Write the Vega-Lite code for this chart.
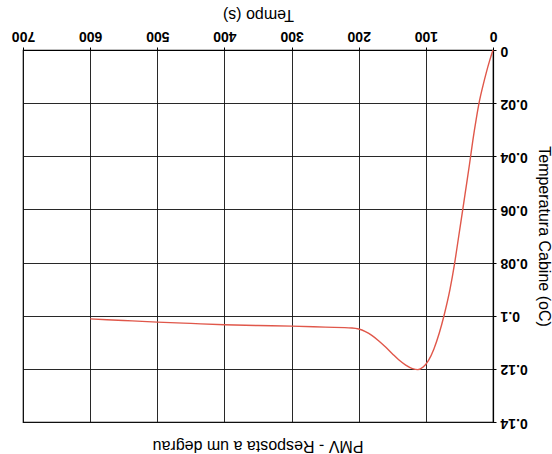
{
  "$schema": "https://vega.github.io/schema/vega-lite/v6.json",
  "autosize": "none",
  "width": 470,
  "height": 372,
  "padding": {"left": 23, "top": 50, "right": 59, "bottom": 32},
  "background": "white",
  "config": {
    "font": "Liberation Sans",
    "view": {"stroke": "black", "strokeWidth": 1.2},
    "axis": {
      "gridColor": "#111",
      "gridWidth": 1,
      "gridOpacity": 0.9,
      "domainColor": "black",
      "domainWidth": 1.2,
      "tickColor": "black",
      "tickSize": 3,
      "labelFont": "Liberation Sans",
      "labelFontSize": 14,
      "labelFontWeight": "bold",
      "labelColor": "black",
      "titleFont": "Liberation Sans",
      "titleFontSize": 16,
      "titleFontWeight": "normal",
      "titleColor": "black"
    }
  },
  "title": {
    "text": "PMV - Resposta a um degrau",
    "orient": "bottom",
    "angle": 180,
    "baseline": "bottom",
    "offset": 9,
    "anchor": "middle",
    "font": "Liberation Sans",
    "fontSize": 16,
    "fontWeight": "normal",
    "color": "black"
  },
  "data": {
    "values": [
      {"t": 0, "v": 0},
      {"t": 5, "v": 0.004},
      {"t": 10, "v": 0.0085},
      {"t": 15, "v": 0.0135},
      {"t": 20, "v": 0.019},
      {"t": 25, "v": 0.026},
      {"t": 30, "v": 0.034},
      {"t": 35, "v": 0.043},
      {"t": 40, "v": 0.0515},
      {"t": 45, "v": 0.06},
      {"t": 51, "v": 0.07},
      {"t": 57, "v": 0.08},
      {"t": 64, "v": 0.09},
      {"t": 73, "v": 0.1},
      {"t": 80, "v": 0.1065},
      {"t": 88, "v": 0.1125},
      {"t": 96, "v": 0.1168},
      {"t": 104, "v": 0.1193},
      {"t": 112, "v": 0.1203},
      {"t": 120, "v": 0.1199},
      {"t": 130, "v": 0.1186},
      {"t": 140, "v": 0.1167},
      {"t": 150, "v": 0.1143},
      {"t": 160, "v": 0.1118},
      {"t": 170, "v": 0.1095},
      {"t": 180, "v": 0.1075},
      {"t": 190, "v": 0.106},
      {"t": 200, "v": 0.105},
      {"t": 210, "v": 0.1046},
      {"t": 250, "v": 0.1043},
      {"t": 300, "v": 0.1039},
      {"t": 350, "v": 0.1037},
      {"t": 400, "v": 0.1034},
      {"t": 450, "v": 0.1029},
      {"t": 500, "v": 0.1024},
      {"t": 550, "v": 0.1018},
      {"t": 600, "v": 0.1012}
    ]
  },
  "mark": {"type": "line", "color": "#e0574a", "strokeWidth": 1.4, "interpolate": "monotone"},
  "encoding": {
    "x": {
      "field": "t",
      "type": "quantitative",
      "scale": {"domain": [0, 700], "reverse": true, "nice": false, "zero": false},
      "axis": {
        "orient": "top",
        "title": "Tempo (s)",
        "values": [0, 100, 200, 300, 400, 500, 600, 700],
        "labelAngle": 180,
        "labelBaseline": "top",
        "labelAlign": "center",
        "labelPadding": 5,
        "labelFlush": false,
        "labelOverlap": false,
        "titleAngle": 180,
        "titleBaseline": "top",
        "titlePadding": 6
      }
    },
    "y": {
      "field": "v",
      "type": "quantitative",
      "scale": {"domain": [0, 0.14], "reverse": true, "nice": false, "zero": false},
      "axis": {
        "orient": "right",
        "title": "Temperatura Cabine (oC)",
        "values": [0, 0.02, 0.04, 0.06, 0.08, 0.1, 0.12, 0.14],
        "format": ".2~f",
        "labelAngle": 180,
        "labelAlign": "right",
        "labelBaseline": "middle",
        "labelPadding": 4,
        "labelFlush": false,
        "labelOverlap": false,
        "titleAngle": 90,
        "titlePadding": 8
      }
    }
  }
}
